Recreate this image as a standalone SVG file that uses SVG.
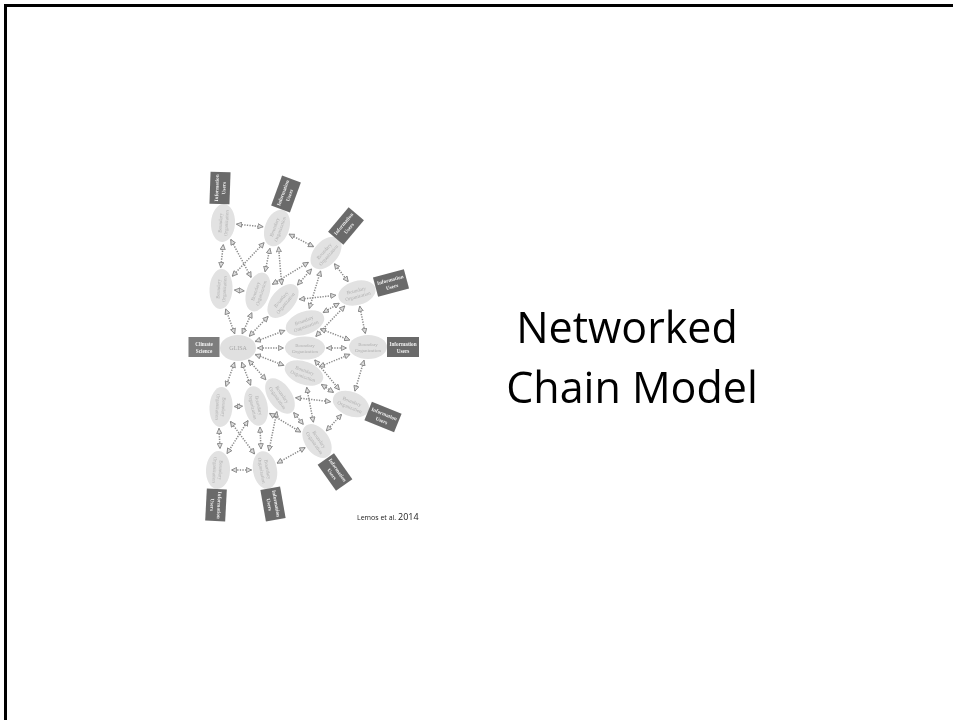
<svg xmlns="http://www.w3.org/2000/svg" width="953" height="720" viewBox="0 0 953 720">
  <defs>
    <style>
      .bo ellipse { fill: #e2e2e2; }
      .bo text { font-family: "Liberation Serif", serif; font-size: 5px; fill: #b0b0b0; text-anchor: middle; }
      .hub ellipse { fill: #e0e0e0; }
      .hub text { font-family: "Liberation Serif", serif; font-size: 6px; fill: #a8a8a8; text-anchor: middle; }
      .users rect { fill: #6b6b6b; }
      .users text, .science text { font-family: "Liberation Serif", serif; font-size: 5.2px; font-weight: bold; fill: #f2f2f2; text-anchor: middle; }
      .science rect { fill: #7d7d7d; }
      .links line { stroke: #8a8a8a; stroke-width: 1.5; stroke-dasharray: 1.3 1.3; marker-start: url(#tip); marker-end: url(#tip); }
      .title { font-family: "Open Sans", "Noto Sans", sans-serif; font-size: 43px; fill: #000; text-anchor: middle; }
      .cite { font-family: "Open Sans", "Noto Sans", sans-serif; fill: #222; }
    </style>
    <marker id="tip" viewBox="0 0 10 10" refX="9" refY="5" markerWidth="4.2" markerHeight="4.2" markerUnits="strokeWidth" orient="auto-start-reverse">
      <path d="M0.8,1 L9,5 L0.8,9 Z" fill="#dcdcdc" stroke="#858585" stroke-width="1.4"/>
    </marker>
    <filter id="soft" x="-5%" y="-5%" width="110%" height="110%">
      <feGaussianBlur stdDeviation="0.3"/>
    </filter>
  </defs>

  <rect width="953" height="720" fill="#fff"/>
  <!-- slide frame: top and left edges -->
  <path d="M5.5,720 V5.5 H953" fill="none" stroke="#000" stroke-width="3"/>

  <g id="figure" filter="url(#soft)">
    <!-- dotted two-way links -->
    <g id="connectors" class="links">
      <!-- hub to inner ring -->
      <line x1="234.7" y1="333.7" x2="225.7" y2="309"/>
      <line x1="242.2" y1="333.8" x2="251.9" y2="312.6"/>
      <line x1="249.3" y1="336.2" x2="268.1" y2="316.5"/>
      <line x1="255.3" y1="341.5" x2="284.9" y2="330.5"/>
      <line x1="257.5" y1="348" x2="283.5" y2="348"/>
      <line x1="255.3" y1="354.5" x2="283.9" y2="365.4"/>
      <line x1="248.6" y1="360.1" x2="265.9" y2="379.8"/>
      <line x1="241.7" y1="362.3" x2="250.6" y2="385.2"/>
      <line x1="234.6" y1="362.3" x2="225.9" y2="386.5"/>
      <!-- inner ring to outer ring, radial -->
      <line x1="220.7" y1="267.5" x2="223.3" y2="244.5"/>
      <line x1="265.1" y1="271.7" x2="269.9" y2="248.3"/>
      <line x1="297.4" y1="285" x2="311.6" y2="269"/>
      <line x1="323.2" y1="312.5" x2="339.2" y2="303.3"/>
      <line x1="326.5" y1="348" x2="346.5" y2="348"/>
      <line x1="321.4" y1="384.5" x2="333.5" y2="392.4"/>
      <line x1="293.7" y1="412.6" x2="303.3" y2="424.4"/>
      <line x1="260" y1="427.1" x2="261" y2="448.9"/>
      <line x1="219" y1="428.4" x2="220" y2="448.6"/>
      <!-- inner ring to outer ring, crossing -->
      <line x1="232.3" y1="276.2" x2="264.1" y2="242.6"/>
      <line x1="251.1" y1="277.3" x2="230.8" y2="239.5"/>
      <line x1="272.4" y1="284.3" x2="308.4" y2="262.4"/>
      <line x1="281.7" y1="284.8" x2="278.5" y2="246.7"/>
      <line x1="299.2" y1="299.3" x2="335.9" y2="295.3"/>
      <line x1="309.3" y1="308.5" x2="320.6" y2="270.9"/>
      <line x1="320.4" y1="328.9" x2="349.8" y2="340.1"/>
      <line x1="315.9" y1="336.4" x2="344.7" y2="306"/>
      <line x1="314.8" y1="360" x2="339.4" y2="389.9"/>
      <line x1="319.3" y1="366.8" x2="349.9" y2="354.3"/>
      <line x1="306.7" y1="387.4" x2="313.4" y2="422.3"/>
      <line x1="295.6" y1="397.7" x2="330.6" y2="401.7"/>
      <line x1="276.8" y1="411.7" x2="268.9" y2="450.9"/>
      <line x1="269.6" y1="413.4" x2="300.8" y2="432.1"/>
      <line x1="248" y1="420.6" x2="227" y2="453.6"/>
      <line x1="230.4" y1="421.5" x2="254.5" y2="453.9"/>
      <!-- outer ring neighbours -->
      <line x1="236.5" y1="224.2" x2="263.1" y2="226.7"/>
      <line x1="289.1" y1="234.2" x2="313.6" y2="246.7"/>
      <line x1="334.4" y1="263.8" x2="348.2" y2="281.7"/>
      <line x1="359.7" y1="306.2" x2="365.3" y2="333.6"/>
      <line x1="364" y1="360.3" x2="354.9" y2="391.1"/>
      <line x1="341.5" y1="414.4" x2="326.3" y2="430.9"/>
      <line x1="305.1" y1="447.6" x2="277.1" y2="463.2"/>
      <line x1="251.5" y1="470" x2="231.5" y2="470"/>
      <!-- inner ring neighbours -->
      <line x1="234.5" y1="290.1" x2="244.3" y2="290.9"/>
      <line x1="234.5" y1="406.6" x2="242.5" y2="406.2"/>
    </g>

    <!-- source and hub -->
    <g id="climate-science" class="science" transform="translate(204,347)">
      <rect x="-15.5" y="-10" width="31" height="20"/>
      <text y="-1.5">Climate</text>
      <text y="5.5">Science</text>
    </g>
    <g id="glisa" class="hub" transform="translate(238,348)">
      <ellipse rx="18" ry="13"/>
      <text y="2">GLISA</text>
    </g>

    <!-- inner ring of boundary organizations -->
    <g id="bo-inner-1" class="bo" transform="translate(221,289) rotate(-87)"><ellipse rx="20" ry="11.5"/><text y="-1">Boundary</text><text y="5">Organization</text></g>
    <g id="bo-inner-2" class="bo" transform="translate(258,292) rotate(-72)"><ellipse rx="20" ry="11.5"/><text y="-1">Boundary</text><text y="5">Organization</text></g>
    <g id="bo-inner-3" class="bo" transform="translate(283,301) rotate(-50)"><ellipse rx="20" ry="11.5"/><text y="-1">Boundary</text><text y="5">Organization</text></g>
    <g id="bo-inner-4" class="bo" transform="translate(305,323) rotate(-20)"><ellipse rx="20" ry="11.5"/><text y="-1">Boundary</text><text y="5">Organization</text></g>
    <g id="bo-inner-5" class="bo" transform="translate(305,348)"><ellipse rx="20" ry="11.5"/><text y="-1">Boundary</text><text y="5">Organization</text></g>
    <g id="bo-inner-6" class="bo" transform="translate(304,373) rotate(20)"><ellipse rx="20" ry="11.5"/><text y="-1">Boundary</text><text y="5">Organization</text></g>
    <g id="bo-inner-7" class="bo" transform="translate(280,396) rotate(55)"><ellipse rx="20" ry="11.5"/><text y="-1">Boundary</text><text y="5">Organization</text></g>
    <g id="bo-inner-8" class="bo" transform="translate(256,406) rotate(78)"><ellipse rx="20" ry="11.5"/><text y="-1">Boundary</text><text y="5">Organization</text></g>
    <g id="bo-inner-9" class="bo" transform="translate(221,407) rotate(93)"><ellipse rx="20" ry="11.5"/><text y="-1">Boundary</text><text y="5">Organization</text></g>

    <!-- outer ring of boundary organizations -->
    <g id="bo-outer-1" class="bo" transform="translate(223,223) rotate(-87)"><ellipse rx="19" ry="12"/><text y="-1">Boundary</text><text y="5">Organization</text></g>
    <g id="bo-outer-2" class="bo" transform="translate(277,228) rotate(-70)"><ellipse rx="19" ry="12"/><text y="-1">Boundary</text><text y="5">Organization</text></g>
    <g id="bo-outer-3" class="bo" transform="translate(326,253) rotate(-48)"><ellipse rx="19" ry="12"/><text y="-1">Boundary</text><text y="5">Organization</text></g>
    <g id="bo-outer-4" class="bo" transform="translate(357,293) rotate(-15)"><ellipse rx="19" ry="12"/><text y="-1">Boundary</text><text y="5">Organization</text></g>
    <g id="bo-outer-5" class="bo" transform="translate(368,347)"><ellipse rx="19" ry="12"/><text y="-1">Boundary</text><text y="5">Organization</text></g>
    <g id="bo-outer-6" class="bo" transform="translate(351,404) rotate(22)"><ellipse rx="19" ry="12"/><text y="-1">Boundary</text><text y="5">Organization</text></g>
    <g id="bo-outer-7" class="bo" transform="translate(317,441) rotate(55)"><ellipse rx="19" ry="12"/><text y="-1">Boundary</text><text y="5">Organization</text></g>
    <g id="bo-outer-8" class="bo" transform="translate(265,470) rotate(80)"><ellipse rx="19" ry="12"/><text y="-1">Boundary</text><text y="5">Organization</text></g>
    <g id="bo-outer-9" class="bo" transform="translate(218,470) rotate(93)"><ellipse rx="19" ry="12"/><text y="-1">Boundary</text><text y="5">Organization</text></g>

    <!-- information users at the rim -->
    <g id="users-1" class="users" transform="translate(220,188) rotate(-88)"><rect x="-16" y="-10" width="32" height="20"/><text y="-1.5">Information</text><text y="5.5">Users</text></g>
    <g id="users-2" class="users" transform="translate(286,194) rotate(-70)"><rect x="-16" y="-10" width="32" height="20"/><text y="-1.5">Information</text><text y="5.5">Users</text></g>
    <g id="users-3" class="users" transform="translate(346,226) rotate(-50)"><rect x="-16" y="-10" width="32" height="20"/><text y="-1.5">Information</text><text y="5.5">Users</text></g>
    <g id="users-4" class="users" transform="translate(391,283) rotate(-15)"><rect x="-16" y="-10" width="32" height="20"/><text y="-1.5">Information</text><text y="5.5">Users</text></g>
    <g id="users-5" class="users" transform="translate(403,347)"><rect x="-16" y="-10" width="32" height="20"/><text y="-1.5">Information</text><text y="5.5">Users</text></g>
    <g id="users-6" class="users" transform="translate(383,417) rotate(22)"><rect x="-16" y="-10" width="32" height="20"/><text y="-1.5">Information</text><text y="5.5">Users</text></g>
    <g id="users-7" class="users" transform="translate(335,472) rotate(55)"><rect x="-16" y="-10" width="32" height="20"/><text y="-1.5">Information</text><text y="5.5">Users</text></g>
    <g id="users-8" class="users" transform="translate(273,504) rotate(80)"><rect x="-16" y="-10" width="32" height="20"/><text y="-1.5">Information</text><text y="5.5">Users</text></g>
    <g id="users-9" class="users" transform="translate(216,505) rotate(93)"><rect x="-16" y="-10" width="32" height="20"/><text y="-1.5">Information</text><text y="5.5">Users</text></g>
  </g>

  <text class="cite" x="357" y="520"><tspan font-size="7">Lemos et al. </tspan><tspan font-size="9">2014</tspan></text>

  <text class="title" x="627" y="343">Networked</text>
  <text class="title" x="632" y="403">Chain Model</text>
</svg>
